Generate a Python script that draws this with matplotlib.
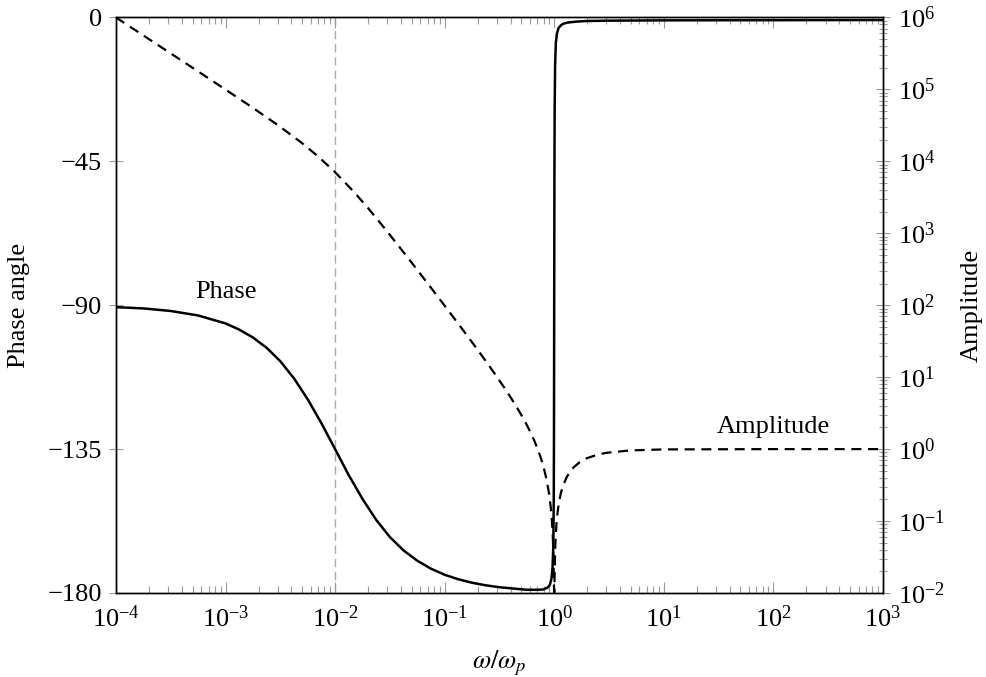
import matplotlib
matplotlib.use("Agg")
import matplotlib.pyplot as plt
from matplotlib.ticker import LogLocator, NullFormatter

plt.rcParams['font.family'] = ['Liberation Serif', 'DejaVu Serif']
plt.rcParams['mathtext.fontset'] = 'stix'
plt.rcParams['font.size'] = 19

# phase angle (deg)
phase_w = [1e-4, 1.78e-4, 3.16e-4, 5.62e-4, 1e-3, 1.33e-3, 1.78e-3, 2.37e-3, 3.16e-3,
           4.22e-3, 5.62e-3, 7.5e-3, 1e-2, 1.33e-2, 1.78e-2, 2.37e-2, 3.16e-2, 4.22e-2,
           5.62e-2, 7.5e-2, 0.1, 0.133, 0.178, 0.237, 0.316, 0.422, 0.562, 0.708, 0.794,
           0.871, 0.912, 0.944, 0.966, 0.982, 0.991, 0.9954, 1.0, 1.0046, 1.0093, 1.019,
           1.035, 1.059, 1.096, 1.148, 1.202, 1.318, 1.585, 1.995, 3.16, 10.0, 1000.0]
phase_deg = [-90.6, -91.0, -91.8, -93.2, -95.7, -97.6, -100.1, -103.3, -107.5, -112.9,
             -119.4, -126.9, -135.0, -143.1, -150.6, -157.1, -162.5, -166.7, -169.9,
             -172.4, -174.3, -175.7, -176.8, -177.6, -178.2, -178.6, -179.0, -179.0,
             -178.9, -178.3, -177.5, -175.5, -172.0, -165.0, -150.0, -130.0, -90.0,
             -50.0, -30.0, -15.0, -8.0, -5.0, -3.3, -2.5, -2.0, -1.6, -1.3, -1.1, -1.0,
             -0.9, -0.8]

# amplitude
amp_w = [1e-4, 2e-4, 5e-4, 7e-4, 1e-3, 1.5e-3, 2e-3, 3e-3, 5e-3, 7e-3, 1e-2, 1.5e-2,
         2e-2, 3e-2, 5e-2, 7e-2, 0.1, 0.15, 0.2, 0.25, 0.3, 0.35, 0.4, 0.45, 0.5, 0.55,
         0.6, 0.65, 0.7, 0.75, 0.8, 0.85, 0.9, 0.93, 0.95, 0.97, 0.98, 0.99, 1.0, 1.01,
         1.02, 1.03, 1.05, 1.07, 1.1, 1.15, 1.2, 1.3, 1.4, 1.5, 1.7, 2.0, 2.5, 3.0, 5.0,
         10.0, 100.0, 1000.0]
amp_val = [1.0e6, 5.0e5, 2.0e5, 1.425e5, 9.95e4, 6.59e4, 4.9e4, 3.19e4, 1.79e4, 1.17e4,
           7.07e3, 3.70e3, 2.24e3, 1.053e3, 391, 201, 98.5, 43.4, 24.0, 15.0, 10.1, 7.16,
           5.25, 3.94, 3.0, 2.31, 1.78, 1.37, 1.04, 0.778, 0.563, 0.384, 0.235, 0.156,
           0.108, 0.0628, 0.0412, 0.0203, 0.008, 0.0197, 0.0388, 0.0574, 0.093, 0.127,
           0.174, 0.244, 0.306, 0.408, 0.49, 0.556, 0.654, 0.75, 0.84, 0.889, 0.96, 0.99,
           1.0, 1.0]

phase_ticks = [-180, -135, -90, -45, 0]
decades_x = [1e-4, 1e-3, 1e-2, 1e-1, 1e0, 1e1, 1e2, 1e3]

tick_grey = '#999999'

fig = plt.figure(figsize=(9.87, 6.77), dpi=100)
ax = fig.add_axes([0.1175, 0.1241, 0.777, 0.8501])
ax2 = ax.twinx()

ax.axvline(1e-2, color='#aaaaaa', lw=1.0, dashes=(6, 3.5), zorder=1)
ax.plot(phase_w, phase_deg, color='black', lw=1.8, zorder=3)
ax2.plot(amp_w, amp_val, color='black', lw=1.6, dashes=(4.5, 3), zorder=3)

ax.set_xscale('log')
ax.set_xlim(1e-4, 1e3)
ax.set_ylim(-180, 0)
ax.set_yticks(phase_ticks)
ax.set_xticks(decades_x)
ax.xaxis.set_minor_locator(LogLocator(base=10, subs=range(2, 10), numticks=20))
ax.xaxis.set_minor_formatter(NullFormatter())

ax2.set_yscale('log')
ax2.set_ylim(1e-2, 1e6)
ax2.yaxis.set_major_locator(LogLocator(base=10, numticks=20))
ax2.yaxis.set_minor_locator(LogLocator(base=10, subs=range(2, 10), numticks=20))
ax2.yaxis.set_minor_formatter(NullFormatter())

ax.tick_params(axis='x', which='major', direction='in', length=8, width=0.8,
               color=tick_grey, top=True, pad=9)
ax.tick_params(axis='x', which='minor', direction='in', length=5, width=0.8,
               color=tick_grey, top=True)
ax.tick_params(axis='y', which='major', direction='inout', length=10, width=0.8,
               color=tick_grey, right=False, pad=5)
ax2.tick_params(axis='y', which='major', direction='inout', length=10, width=0.8,
                color=tick_grey, pad=6)
ax2.tick_params(axis='y', which='minor', direction='inout', length=6, width=0.8,
                color=tick_grey)

for a in (ax, ax2):
    for s in a.spines.values():
        s.set_linewidth(1.0)
        s.set_color('black')

ax.text(1.0e-3, -86, 'Phase', ha='center', va='center')
ax.text(1.0e2, -128, 'Amplitude', ha='center', va='center')

ax.set_xlabel(r'$\omega/\omega_p$', labelpad=12)
ax.set_ylabel('Phase angle', labelpad=13)
ax2.set_ylabel('Amplitude', labelpad=11)

fig.savefig('out.png', dpi=100)
